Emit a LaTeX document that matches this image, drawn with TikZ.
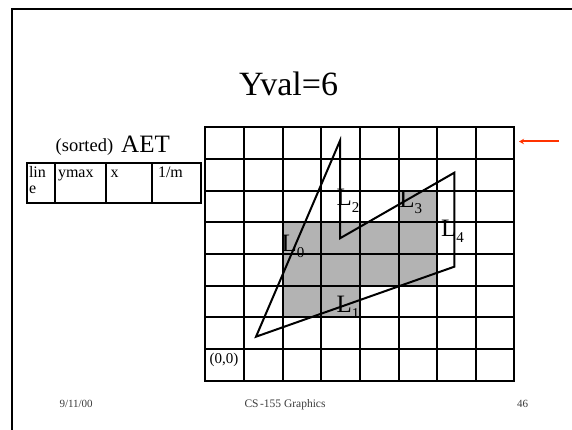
\documentclass[tikz,border=0pt]{standalone}
\usepackage{fontspec}
\setmainfont{Liberation Serif}
\usetikzlibrary{arrows.meta}
\definecolor{cellgray}{RGB}{179,179,179}
\definecolor{arrowred}{RGB}{255,51,0}
\definecolor{foottext}{RGB}{60,60,60}
\newcommand\fsz[1]{\fontsize{#1}{#1}\selectfont}
\newcommand\Lsub[1]{L\raisebox{-6pt}{\fsz{15}#1}}
\begin{document}
\begin{tikzpicture}[x=1pt,y=-1pt,
  gridline/.style={line width=2pt},
  polyedge/.style={line width=2pt, line join=miter},
  lab/.style={inner sep=0pt, outer sep=0pt, anchor=base west, font=\fsz{25}},
  celltext/.style={inner sep=0pt, outer sep=0pt, anchor=base west, font=\fsz{16}},
  foot/.style={inner sep=0pt, outer sep=0pt, anchor=base west, font=\fsz{11}, text=foottext}]
\useasboundingbox (0,0) rectangle (572,430);
\fill[white] (0,0) rectangle (572,430);
% slide frame
\draw[line width=2pt, line cap=rect] (12,432) -- (12,9) -- (574,9);
% title
\node[inner sep=0pt, anchor=base west, font=\fsz{34}] (title) at (239,95.5) {Yval=6};
% AET heading
\node[inner sep=0pt, anchor=base west, font=\fsz{18.5}] (sorted) at (55.5,152) {(sorted)};
\node[inner sep=0pt, anchor=base west, font=\fsz{25}] (aet) at (121,152.5) {AET};
% table
\draw[gridline, line cap=rect] (27,163) rectangle (201,203);
\foreach \tx in {55,106,152} \draw[gridline] (\tx,163) -- (\tx,203);
\node[celltext] (lin) at (29,177.5) {lin};
\node[celltext] (line2) at (29,194) {e};
\node[celltext] (ymax) at (58,177.5) {ymax};
\node[celltext] (xcol) at (110.5,177.5) {x};
\node[celltext] (mcol) at (158,177.5) {1/m};
% shaded pixels
\fill[cellgray] (399,191) rectangle (437,222);
\fill[cellgray] (283,222) rectangle (437,286);
\fill[cellgray] (283,286) rectangle (360,317);
% grid
\foreach \gxx in {244,283,321,360,399,437,476} \draw[gridline] (\gxx,127) -- (\gxx,381);
\foreach \gyy in {159,191,222,254,286,317,349} \draw[gridline] (205,\gyy) -- (514,\gyy);
\draw[gridline, line cap=rect] (205,127) rectangle (514,381);
% polygon
\coordinate (v0) at (256,336.7);
\coordinate (v1) at (340,140.7);
\coordinate (v2) at (340,238.3);
\coordinate (v3) at (454.3,172.7);
\coordinate (v4) at (454.3,266.7);
\draw[polyedge] (v0) -- (v1) -- (v2) -- (v3) -- (v4) -- cycle;
% edge labels
\node[lab] (L0) at (281.7,251) {\Lsub{0}};
\node[lab] (L1) at (336.7,312.5) {\Lsub{1}};
\node[lab] (L2) at (336.7,206) {\Lsub{2}};
\node[lab] (L3) at (399.3,207.5) {\Lsub{3}};
\node[lab] (L4) at (441,236.7) {\Lsub{4}};
\node[inner sep=0pt, anchor=base west, font=\fsz{15}] (origin) at (209.5,363) {(0,0)};
% scan line arrow
\coordinate (arrS) at (559,141.5);
\coordinate (arrE) at (519,141.5);
\draw[arrowred, line width=2pt, -{Stealth[length=5pt,width=5.5pt]}] (arrS) -- (arrE);
% footer
\node[foot] (date) at (59.5,407) {9/11/00};
\node[foot, font=\fsz{11.5}] (course) at (244.5,407) {CS\kern1.5pt-155 Graphics};
\node[foot] (page) at (517,407) {46};
\end{tikzpicture}
\end{document}
